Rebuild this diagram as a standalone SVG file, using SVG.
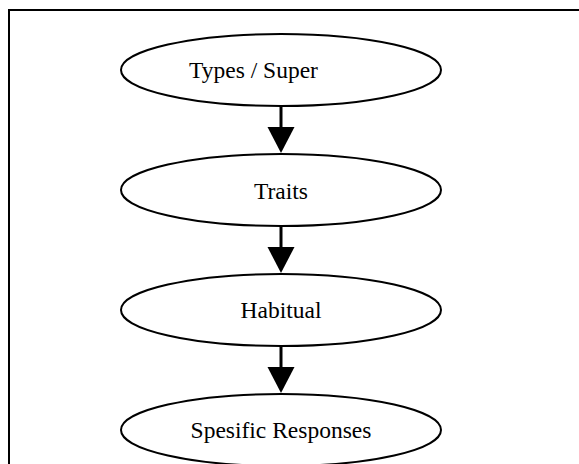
<svg xmlns="http://www.w3.org/2000/svg" width="579" height="464" viewBox="0 0 579 464">
<defs>
<style>
.node ellipse{fill:#fff;stroke:#000;stroke-width:2}
.node text{font-family:"Liberation Serif","Times New Roman",serif;font-size:23.5px;fill:#000}
.edge line{stroke:#000;stroke-width:3}
.edge polygon{fill:#000}
</style>
</defs>
<rect width="579" height="464" fill="#fff"/>
<rect x="9" y="10" width="580" height="470" fill="none" stroke="#000" stroke-width="2"/>
<g id="connectors" class="edge">
<line x1="281" y1="106" x2="281" y2="128"/>
<polygon points="267.5,127 294.5,127 281,153"/>
<line x1="281" y1="226" x2="281" y2="248"/>
<polygon points="267.5,247 294.5,247 281,273"/>
<line x1="281" y1="346" x2="281" y2="368"/>
<polygon points="267.5,367 294.5,367 281,393"/>
</g>
<g id="node-types" class="node">
<ellipse cx="281" cy="70" rx="160" ry="36"/>
<text x="189" y="78">Types / Super</text>
</g>
<g id="node-traits" class="node">
<ellipse cx="281" cy="190" rx="160" ry="36"/>
<text x="281" y="199" text-anchor="middle">Traits</text>
</g>
<g id="node-habitual" class="node">
<ellipse cx="281" cy="310" rx="160" ry="36"/>
<text x="281" y="318" text-anchor="middle">Habitual</text>
</g>
<g id="node-responses" class="node">
<ellipse cx="281" cy="430" rx="160" ry="36"/>
<text x="281" y="438" text-anchor="middle">Spesific Responses</text>
</g>
</svg>
